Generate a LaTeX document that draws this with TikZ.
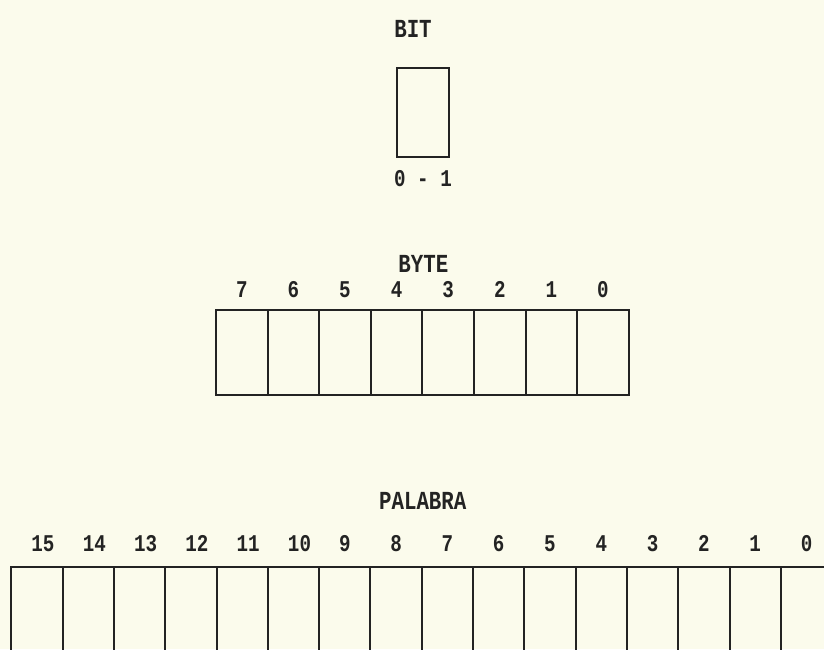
\documentclass[tikz,border=0pt]{standalone}
\usepackage{fontspec}
\usepackage{tikz}
\usetikzlibrary{positioning}
\newfontfamily\matrizfont[FakeStretch=0.8]{Liberation Mono}
\definecolor{papel}{RGB}{251,251,236}
\definecolor{tinta}{RGB}{35,35,35}

\tikzset{
  celda/.style={draw=tinta, line width=1pt, inner sep=0pt,
    minimum width=25.75pt, minimum height=42.5pt},
  titulo/.style={font=\matrizfont\bfseries\fontsize{13}{15}\selectfont,
    text=tinta, inner sep=0pt},
  numero/.style={font=\matrizfont\bfseries\fontsize{12}{14}\selectfont,
    text=tinta, inner sep=0pt},
}

\begin{document}
\begin{tikzpicture}[x=0.5pt, y=-0.5pt]

    % ---------------------------------------------------
    % Paper
    % ---------------------------------------------------
    \fill[papel] (0,0) rectangle (824,649);
    \clip (0,0) rectangle (824,649);

    % ---------------------------------------------------
    % BIT
    % ---------------------------------------------------
    \node[celda, minimum width=26pt, minimum height=44.5pt] (bit) at (423,112) {};
    \node[titulo, above=14.5pt of bit, xshift=-5pt] (tbit) {BIT};
    \node[numero, below=6.5pt of bit] (vbit) {0 - 1};

    % ---------------------------------------------------
    % BYTE
    % ---------------------------------------------------
    \foreach \i in {0,...,7}
        \node[celda] (b\i) at ({241.8+(7-\i)*51.6}, 352) {};
    \foreach \i in {0,...,7}
        \node[numero, above=5.2pt of b\i] (nb\i) {\i};
    \node[titulo, above=18pt of b4.north east] (tbyte) {BYTE};

    % ---------------------------------------------------
    % PALABRA (runs off the page at the right and bottom)
    % ---------------------------------------------------
    \foreach \i in {0,...,15}
        \node[celda, minimum width=25.65pt] (p\i) at ({37+(15-\i)*51.3}, 609.5) {};
    \foreach \i in {0,...,15} {
        \ifnum\i>9 \def\desp{3pt}\else\def\desp{0pt}\fi
        \node[numero, above=7pt of p\i, xshift=\desp] (np\i) {\i};
    }
    \node[titulo, above=28pt of p8.north east] (tpal) {PALABRA};

\end{tikzpicture}
\end{document}
